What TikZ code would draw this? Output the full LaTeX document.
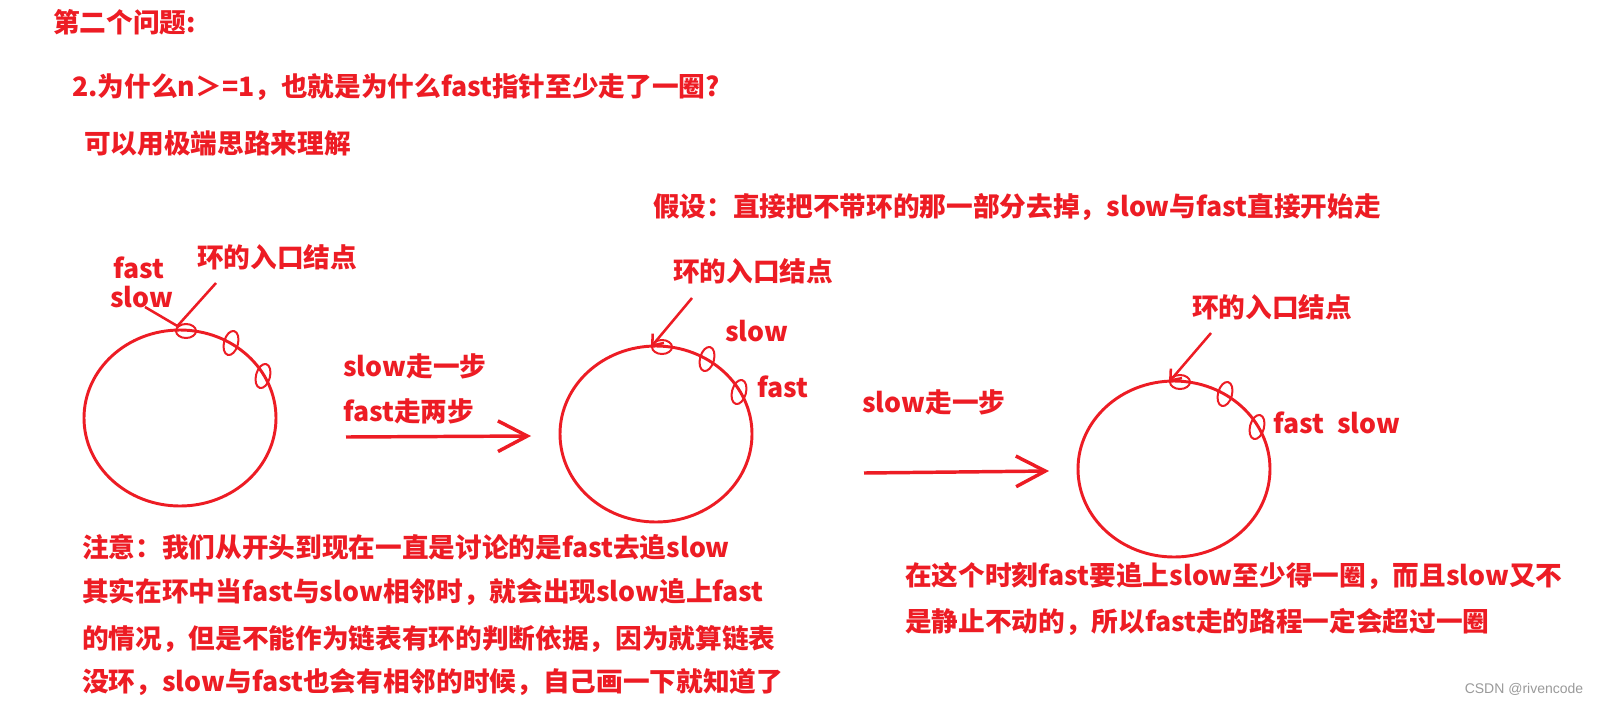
\documentclass[tikz,border=0pt]{standalone}
\usepackage{fontspec}
\usetikzlibrary{shapes.geometric,arrows.meta}
\newfontfamily\cjk{Noto Sans CJK SC}
\newfontfamily\wmfont{Liberation Sans}
\definecolor{myred}{HTML}{ED1C24}
\definecolor{wmgray}{HTML}{9A9A9A}
\tikzset{
  txt/.style={font=\cjk\bfseries\fontsize{20pt}{24pt}\selectfont, text=myred, inner sep=0pt, anchor=west},
  ring/.style={draw=myred, line width=2.2pt, ellipse, minimum width=144pt, minimum height=132pt, inner sep=0pt},
  hmark/.style={draw=myred, line width=1.5pt, ellipse, inner sep=0pt, minimum width=15pt, minimum height=10.5pt},
  vmark/.style={draw=myred, line width=1.5pt, ellipse, inner sep=0pt, minimum width=10.5pt, minimum height=18.5pt, rotate=-15},
  pointer/.style={draw=myred, line width=1.9pt},
  smallhead/.style={pointer, -{Straight Barb[length=7pt,width=11pt]}},
  bigarrow/.style={draw=myred, line width=2.6pt, -{Straight Barb[length=22pt,width=23pt]}},
}
\begin{document}
\begin{tikzpicture}[x=0.75pt,y=-0.75pt]
\useasboundingbox (0,0) rectangle (1598,704);
\fill[white] (0,0) rectangle (1598,704);

% headings
\node[txt] (title) at (53,22) {第二个问题:};
\node[txt] (question) at (72,87) {2.为什么n＞=1，也就是为什么fast指针至少走了一圈?};
\node[txt] (idea) at (84,143) {可以用极端思路来理解};
\node[txt] (assume) at (653,207) {假设：直接把不带环的那一部分去掉，slow与fast直接开始走};

% ring 1
\node[ring] (ringA) at (180,418) {};
\node[hmark] (a1) at (186,331) {};
\node[vmark] (a2) at (231,343) {};
\node[vmark] (a3) at (263,376) {};
\node[txt] (fastA) at (113,268) {fast};
\node[txt] (slowA) at (110,297) {slow};
\node[txt] (entryA) at (197,257) {环的入口结点};
\coordinate (slowAend) at (145,307);
\coordinate (entryAend) at (216,283);
\draw[pointer] (slowAend) -- (a1.150);
\draw[pointer] (entryAend) -- (a1.150);

% step 1
\node[txt] (stepAa) at (343,366) {slow走一步};
\node[txt] (stepAb) at (343,411) {fast走两步};
\coordinate (arrAs) at (346,437);
\coordinate (arrAe) at (531,436);
\draw[bigarrow] (arrAs) -- (arrAe);

% ring 2
\node[ring] (ringB) at (656,434) {};
\node[hmark] (b1) at (662,347) {};
\node[vmark] (b2) at (707,359) {};
\node[vmark] (b3) at (739,392) {};
\node[txt] (entryB) at (673,271) {环的入口结点};
\node[txt] (slowB) at (725,331) {slow};
\node[txt] (fastB) at (757,387) {fast};
\coordinate (entryBend) at (692,298);
\draw[smallhead] (entryBend) -- (b1.west);

% step 2
\node[txt] (stepB) at (862,402) {slow走一步};
\coordinate (arrBs) at (864,473);
\coordinate (arrBe) at (1049,471);
\draw[bigarrow] (arrBs) -- (arrBe);

% ring 3
\node[ring] (ringC) at (1174,469) {};
\node[hmark] (c1) at (1180,382) {};
\node[vmark] (c2) at (1225,394) {};
\node[vmark] (c3) at (1257,427) {};
\node[txt] (entryC) at (1192,307) {环的入口结点};
\node[txt] (fastC) at (1273,423) {fast};
\node[txt] (slowC) at (1337,423) {slow};
\coordinate (entryCend) at (1211,333);
\draw[smallhead] (entryCend) -- (c1.west);

% notes
\node[txt] (noteA) at (82,547) {注意：我们从开头到现在一直是讨论的是fast去追slow};
\node[txt] (noteB) at (82,592) {其实在环中当fast与slow相邻时，就会出现slow追上fast};
\node[txt] (noteC) at (82,639) {的情况，但是不能作为链表有环的判断依据，因为就算链表};
\node[txt] (noteD) at (82,682) {没环，slow与fast也会有相邻的时候，自己画一下就知道了};
\node[txt] (noteE) at (905,576) {在这个时刻fast要追上slow至少得一圈，而且slow又不};
\node[txt] (noteF) at (905,622) {是静止不动的，所以fast走的路程一定会超过一圈};

\node[font=\wmfont\fontsize{10.5pt}{12pt}\selectfont, text=wmgray, inner sep=0pt] (wm) at (1524,689) {CSDN @rivencode};
\end{tikzpicture}
\end{document}
